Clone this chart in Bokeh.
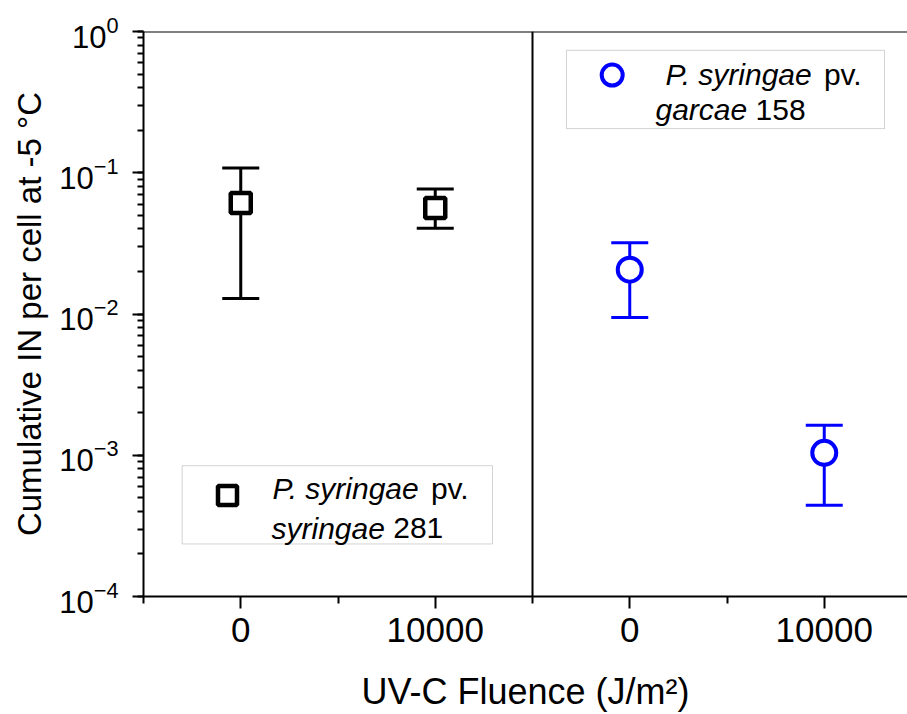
from bokeh.plotting import figure
from bokeh.models import (ColumnDataSource, Whisker, TeeHead, Span, FixedTicker,
                          BoxAnnotation)
from bokeh.core.properties import value
from bokeh.embed import file_html
from bokeh.resources import INLINE

# ---------------- data ----------------
fluence = [0, 10000]
tick_labels = ["0", "10000"]

syr_mean = [0.0611, 0.0564]
syr_upper = [0.1081, 0.0766]
syr_lower = [0.0129, 0.0404]

gar_mean = [0.0206, 0.00104]
gar_upper = [0.0320, 0.00163]
gar_lower = [0.00943, 0.000443]

legend_syr = [("P. syringae", "pv."), ("syringae", "281")]
legend_gar = [("P. syringae", "pv."), ("garcae", "158")]

# ---------------- layout constants ----------------
W, H = 907, 714
FL, FT, FB = 143, 31, 113        # frame borders
FW = W - FL
FH = H - FT - FB
PANEL = 20000                    # offset of the second panel on the x axis
X0 = -5000
X1 = X0 + FW / 389.0 * PANEL
FONT = "Liberation Sans"
LEG_FS = 30

# advance widths (em) of Arial / Liberation Sans glyphs used in the legends
ADV = {"P": .667, ".": .278, " ": .278, "s": .5, "y": .5, "r": .333, "i": .222,
       "n": .556, "g": .556, "a": .556, "e": .556, "c": .5}


def tw(t, fs):
    return sum(ADV.get(ch, .556) for ch in t) * fs


def sx(px):
    return X0 + (px - FL) / FW * (X1 - X0)


def sy(py):
    return 10 ** (-(py - FT) / FH * 4)


p = figure(width=W, height=H, y_axis_type="log", x_range=(X0, X1), y_range=(1e-4, 1),
           output_backend="svg", toolbar_location=None,
           min_border_left=FL, min_border_top=FT, min_border_bottom=FB, min_border_right=0)
p.outline_line_color = None
p.xgrid.visible = False
p.ygrid.visible = False
p.background_fill_color = "white"
p.border_fill_color = "white"

# ---------------- data marks ----------------
x_syr = [f for f in fluence]
x_gar = [f + PANEL for f in fluence]

src_syr = ColumnDataSource(dict(x=x_syr, y=syr_mean, upper=syr_upper, lower=syr_lower))
src_gar = ColumnDataSource(dict(x=x_gar, y=gar_mean, upper=gar_upper, lower=gar_lower))

for src, col in ((src_syr, "black"), (src_gar, "#0000FF")):
    w = Whisker(source=src, base="x", upper="upper", lower="lower",
                line_color=col, line_width=3, level="underlay",
                upper_head=TeeHead(size=37, line_color=col, line_width=3),
                lower_head=TeeHead(size=37, line_color=col, line_width=3))
    p.add_layout(w)

p.scatter("x", "y", source=src_syr, marker="square", size=20, line_width=4.5,
          line_color="black", fill_color="white")
p.scatter("x", "y", source=src_gar, marker="circle", size=24, line_width=4,
          line_color="#0000FF", fill_color="white")

# ---------------- frame lines ----------------
p.add_layout(Span(location=1, dimension="width", line_color="black", line_width=2))
p.add_layout(Span(location=X0 + PANEL, dimension="height", line_color="black", line_width=2))

# ---------------- axes ----------------
xa = p.xaxis[0]
xa.ticker = FixedTicker(ticks=x_syr + x_gar,
                        minor_ticks=[X0, X0 + 10000, X0 + PANEL, X0 + PANEL + 10000])
xa.major_label_overrides = {x: lab for x, lab in zip(x_syr + x_gar, tick_labels + tick_labels)}
xa.axis_label = "UV-C Fluence (J/m²)"

ya = p.yaxis[0]
ya.axis_label = "Cumulative IN per cell at -5 °C"

for ax in (xa, ya):
    ax.axis_line_width = 2
    ax.major_tick_line_width = 2
    ax.minor_tick_line_width = 2
    ax.major_tick_in = 0
    ax.minor_tick_in = 0
    ax.major_label_text_font = FONT
    ax.major_label_text_color = "black"
    ax.axis_label_text_font = FONT
    ax.axis_label_text_font_style = "normal"
    ax.axis_label_text_color = "black"

xa.major_label_text_font_size = "35px"
xa.axis_label_text_font_size = "36px"
ya.major_label_text_font_size = "31px"
ya.axis_label_text_font_size = "33px"

xa.major_tick_out = 12
xa.minor_tick_out = 7
xa.major_label_standoff = 9
xa.axis_label_standoff = 26
ya.major_tick_out = 11
ya.minor_tick_out = 6
ya.major_label_standoff = 14
ya.axis_label_standoff = 8

# ---------------- legends ----------------
p.add_layout(BoxAnnotation(left=sx(181.7), right=sx(492), top=sy(469), bottom=sy(548),
                           fill_color="white", fill_alpha=1, line_color="#6e6e6e", line_width=1))
p.add_layout(BoxAnnotation(left=sx(566), right=sx(884), top=sy(50), bottom=sy(129),
                           fill_color="white", fill_alpha=1, line_color="#6e6e6e", line_width=1))

p.scatter([sx(227)], [sy(499)], marker="square", size=19, line_width=4.5,
          line_color="black", fill_color="white", level="overlay")
p.scatter([sx(611.7)], [sy(75)], marker="circle", size=21, line_width=4,
          line_color="#0000FF", fill_color="white", level="overlay")


def put(txt, px, py, italic):
    p.text([sx(px)], [sy(py)], text=[txt], text_font=value(FONT), text_font_size=f"{LEG_FS}px",
           text_font_style="italic" if italic else "normal", text_color="black",
           text_align="left", text_baseline="middle", level="overlay")


def put_line(parts, px, py):
    ital, reg = parts
    put(ital, px, py, True)
    put(reg, px + tw(ital + " ", LEG_FS), py, False)


put_line(legend_syr[0], 272, 492)
put_line(legend_syr[1], 271, 532)
put_line(legend_gar[0], 665, 74)
put_line(legend_gar[1], 655, 110)

open("out.html", "w").write(file_html(p, INLINE))
